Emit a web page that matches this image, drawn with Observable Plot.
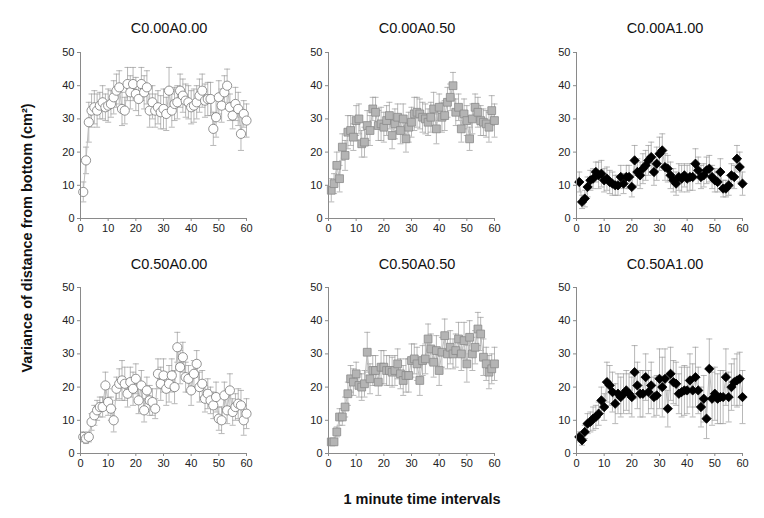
<!DOCTYPE html>
<html>
<head>
<meta charset="utf-8">
<script src="https://cdn.jsdelivr.net/npm/d3@7"></script>
<script src="https://cdn.jsdelivr.net/npm/@observablehq/plot@0.6"></script>
<style>
  html, body { margin: 0; padding: 0; background: #fff; }
  #root { position: relative; width: 764px; height: 518px; font-family: "Liberation Sans", Arial, sans-serif; overflow: hidden; }
  .panel { position: absolute; }
  .title { position: absolute; font-size: 14.5px; color: #111; white-space: nowrap; transform: translateX(-50%); }
  .ylab { position: absolute; font-size: 14.5px; font-weight: bold; color: #111; white-space: nowrap; transform: translate(-50%, -50%) rotate(-90deg); }
  .xlab { position: absolute; font-size: 14.5px; font-weight: bold; color: #111; white-space: nowrap; transform: translate(-50%, -50%); }
</style>
</head>
<body>
<div id="root"></div>
<script>
// ---- data ----
const panelTitles = ["C0.00A0.00", "C0.00A0.50", "C0.00A1.00", "C0.50A0.00", "C0.50A0.50", "C0.50A1.00"];
const xTicks = [0, 10, 20, 30, 40, 50, 60];
const yTicks = [0, 10, 20, 30, 40, 50];
const yLabel = "Variance of distance from bottom (cm²)";
const xLabel = "1 minute time intervals";

const m1 = [8,17.5,29,32.5,33.5,32.5,34,35,33.5,34,34.5,36.5,38.5,39.5,33,32.5,40.5,38,40.5,37.5,36,40.5,38,39.5,32.5,35,32.5,33.5,32,33,31.5,38.5,32.5,34.5,35,38.5,37,35.5,35,33.5,34,35,37,38.5,35.5,36,36,27,30.5,36.5,34,38,40,33.5,31,34.5,33,25.5,31.5,29.5];
const e1 = [3,4,6,5,5,5,4,5,4,5,4,5,5,5,5,4,5,5,5,5,5,5,5,5,5,5,5,5,5,6,5,7,5,5,5,5,5,5,5,5,5,5,5,5,5,5,5,5,6,5,5,5,5,4,4,5,5,5,4,5];

const m2 = [8.5,10.5,16,12,21.5,19,26,26.5,24.5,29.5,30,22.5,23,28,26.5,33,32,28,28.5,27.5,29.5,31,25,28.5,30.5,26.5,30,24,27.5,29,31.5,32,31.5,30.5,30,29,30.5,33,27,33.5,30.5,31,35,36.5,40,32,33.5,27,31.5,29.5,24,30,33.5,32,29.5,29,28.5,27.5,32.5,29.5];
const e2 = [3.5,3,4,4,4,4.5,5,4.5,4,4.5,4.5,4,4.5,4.5,4.5,3.5,4.5,4.5,5,4.5,4.5,4,4,4.5,4,4,4.5,4,4.5,4.5,5,4.5,4.5,4.5,4.5,4,4.5,5,4.5,4,4.5,4.5,4.5,4,4,4,4,4,4.5,4.5,3.5,4.5,4,4.5,4.5,4,4,4.5,4.5,5];

const m3 = [11,5,6,9.5,11.5,12,14,13,13.5,11.5,12,11,10.5,10,10,12.5,10.5,12.5,12.5,9.5,17.5,14,13,15,16,17.5,18.5,14,16.5,19.5,20.5,15.5,15,13,11.5,10.5,12.5,12,13,12,12.5,12.5,16.5,14.5,12.5,13,14.5,15,12.5,11.5,11,14,9,9,10,13,12.5,18,15.5,10.5];
const e3 = [3,2,2.5,3,3,3,3,4,4,3.5,3.5,3.5,3.5,3,3,3.5,3,3.5,3.5,3,4.5,4,4,4.5,4.5,4.5,4.5,4,5,5,5,4,4,4,3.5,3.5,4,4,3.5,4,4,4,4.5,4,3.5,3.5,4,4,3.5,3.5,3,4,2.5,2.5,3,3.5,3.5,4,4.5,3.5];

const m4 = [5,4.5,5,9.5,11.5,13,14,14,20.5,15.5,13.5,10,19.5,21,22,21,18,21.5,19.5,22.5,16,20.5,13,19,16,15.5,13.5,24,21,23.5,19.5,21,23.5,20,32,26,29,23,22.5,19,24,27,20,21,16.5,18,16,14.5,17,10.5,10,17.5,13,19,12.5,14,15,14.5,10,12];
const e4 = [1.5,1.5,1.5,2.5,3,3,3,3,4,4,3.5,3.5,3.5,4.5,6,5,4,4.5,5,4.5,4,4.5,3.5,4,4.5,4,3,4.5,5,5,5,5.5,5,5,4.5,5,4.5,4.5,4,4.5,4,4,4.5,4,4,4.5,4,4,4.5,3.5,4,4,4,5,4,4,4.5,4.5,4.5,4.5];

const m5 = [3.5,3.5,6.5,11,11,14,18,22.5,21.5,24,20.5,20,21,30.5,22.5,25,25,21.5,26,26,25,25,24.5,25,27,24,22,23.5,23.5,28,28.5,27,22,28,28.5,34.5,31.5,27.5,31,25,30.5,35.5,30,32,30,31,34.5,30,34,27,35,30,32,37.5,36,29,27,24.5,25.5,27];
const e5 = [1,1,1.5,2.5,2.5,3,3.5,4,4,3.5,3.5,4,4,6,4.5,4.5,4.5,4,5,5,4.5,4.5,4.5,4.5,4.5,4.5,4.5,5,5,5,4.5,5,4.5,4.5,4.5,4.5,4.5,4.5,4.5,4.5,4.5,5,4.5,5,4.5,5,5,5,5.5,5.5,5,5,5,5,5,5.5,5,5,4.5,5];

const m6 = [5,4,6.5,9,9.5,10.5,11,12,16,14,21.5,20.5,18.5,15,18,17,18,19,18,17,24.5,20.5,18,18,23,18.5,20.5,17,17.5,22.5,20,22.5,13.5,24,21.5,21,18,18.5,19,19,22,19,23,19,14,16.5,10.5,25.5,16.5,18,16.5,17,17,23,17,20,21.5,22,22.5,17];
const e6 = [1.5,1.5,2,3,3,3.5,3.5,3.5,4,4,6,6,6,6,6,6,6,6,6,6,8,7,7,7,7,6.5,7,6,6,9,9,9,5.5,8,6.5,6.5,6,7.5,7.5,7,8,8,9,7,6,7,6,9,8,8,7.5,8,8,8.5,7.5,7,7,8,8,8];

const means = [m1, m2, m3, m4, m5, m6];
const errs = [e1, e2, e3, e4, e5, e6];

// ---- styles per panel ----
const markerStyles = [
  {symbol: "circle", fill: "#ffffff", stroke: "#777", r: 4.6},
  {symbol: "square", fill: "#b4b4b4", stroke: "#8a8a8a", r: 4.4},
  {symbol: "diamond2", fill: "#000", stroke: "#000", r: 4.2},
  {symbol: "circle", fill: "#ffffff", stroke: "#777", r: 4.6},
  {symbol: "square", fill: "#b4b4b4", stroke: "#8a8a8a", r: 4.4},
  {symbol: "diamond2", fill: "#000", stroke: "#000", r: 4.2}
];

const frameLefts = [80, 328, 576];
const frameTops = [52, 287];
const frameW = 166, frameH = 166;
const mL = 32, mR = 10, mT = 8, mB = 24;

const root = document.getElementById("root");

for (let i = 0; i < 6; i++) {
  const col = i % 3, row = Math.floor(i / 3);
  const data = means[i].map((v, k) => ({x: k + 1, y: v, lo: v - errs[i][k], hi: v + errs[i][k]}));
  const ms = markerStyles[i];
  const svg = Plot.plot({
    width: mL + frameW + mR,
    height: mT + frameH + mB,
    marginLeft: mL, marginRight: mR, marginTop: mT, marginBottom: mB,
    style: {fontFamily: "Liberation Sans, Arial, sans-serif", fontSize: "11px", color: "#222", background: "transparent", overflow: "visible"},
    x: {domain: [0, 60]},
    y: {domain: [0, 50]},
    marks: [
      Plot.ruleX(data, {x: "x", y1: "lo", y2: "hi", stroke: "#9a9a9a", strokeWidth: 0.7}),
      Plot.link(data, {x1: d => d.x - 1.1, x2: d => d.x + 1.1, y1: "hi", y2: "hi", stroke: "#9a9a9a", strokeWidth: 0.7}),
      Plot.link(data, {x1: d => d.x - 1.1, x2: d => d.x + 1.1, y1: "lo", y2: "lo", stroke: "#9a9a9a", strokeWidth: 0.7}),
      Plot.line(data, {x: "x", y: "y", stroke: "#bdbdbd", strokeWidth: 1}),
      Plot.dot(data, {x: "x", y: "y", symbol: () => ms.symbol, fill: ms.fill, stroke: ms.stroke, strokeWidth: 0.8, r: ms.r}),
      Plot.ruleX([0], {stroke: "#8a8a8a", strokeWidth: 1}),
      Plot.ruleY([0], {stroke: "#8a8a8a", strokeWidth: 1}),
      Plot.axisX({ticks: xTicks, tickSize: 3, tickPadding: 3, stroke: "#8a8a8a", fill: "#222", label: null}),
      Plot.axisY({ticks: yTicks, tickSize: 3, tickPadding: 3, stroke: "#8a8a8a", fill: "#222", label: null})
    ]
  });
  svg.classList.add("panel");
  svg.style.left = (frameLefts[col] - mL) + "px";
  svg.style.top = (frameTops[row] - mT) + "px";
  root.appendChild(svg);

  const t = document.createElement("div");
  t.className = "title";
  t.textContent = panelTitles[i];
  t.style.left = (frameLefts[col] + frameW / 2 + 6) + "px";
  t.style.top = (row === 0 ? 20 : 256) + "px";
  root.appendChild(t);
}

const yl = document.createElement("div");
yl.className = "ylab";
yl.textContent = yLabel;
yl.style.left = "27px";
yl.style.top = "238px";
root.appendChild(yl);

const xl = document.createElement("div");
xl.className = "xlab";
xl.textContent = xLabel;
xl.style.left = "422px";
xl.style.top = "499px";
root.appendChild(xl);
</script>
</body>
</html>
